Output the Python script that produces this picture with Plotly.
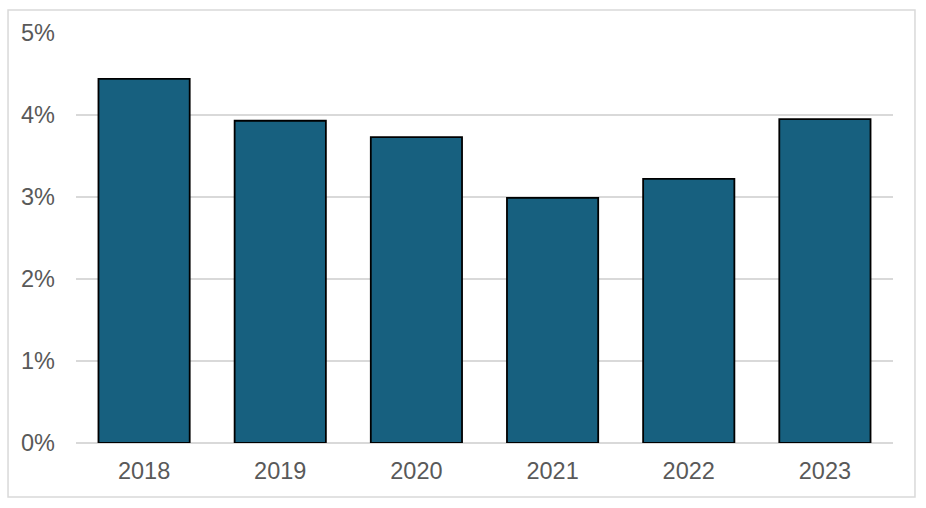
import plotly.graph_objects as go

years = ["2018", "2019", "2020", "2021", "2022", "2023"]
rates = [4.44, 3.93, 3.73, 2.99, 3.22, 3.95]  # en %
y_ticks = [0, 1, 2, 3, 4, 5]
y_labels = [f"{v}%" for v in y_ticks]

fig = go.Figure(
    go.Bar(
        x=years,
        y=rates,
        marker=dict(color="#17607f", line=dict(color="black", width=1.8)),
        width=0.67,
    )
)

fig.update_layout(
    width=926,
    height=508,
    margin=dict(l=76, r=33, t=33, b=65),
    paper_bgcolor="white",
    plot_bgcolor="white",
    showlegend=False,
    font=dict(family="Liberation Sans, Arial, sans-serif", size=23.5, color="#595959"),
    xaxis=dict(showgrid=False, showline=False, ticks="", ticklabelstandoff=11),
    yaxis=dict(
        range=[0, 5],
        tickmode="array",
        tickvals=y_ticks,
        ticktext=y_labels,
        showgrid=True,
        gridcolor="#d9d9d9",
        gridwidth=1.5,
        zeroline=True,
        zerolinecolor="#d9d9d9",
        zerolinewidth=1.5,
        ticks="",
        ticklabelstandoff=20,
    ),
    shapes=[
        dict(
            type="rect", xref="paper", yref="paper",
            x0=-0.0832, x1=1.0269, y0=-0.1317, y1=1.056,
            line=dict(color="#d9d9d9", width=1.5),
            layer="below",
        )
    ],
)

# pas de marge autour du graphique dans la page
fig.write_html(
    "out.html",
    config={"displayModeBar": False},
    post_script="document.body.style.margin='0';",
)
